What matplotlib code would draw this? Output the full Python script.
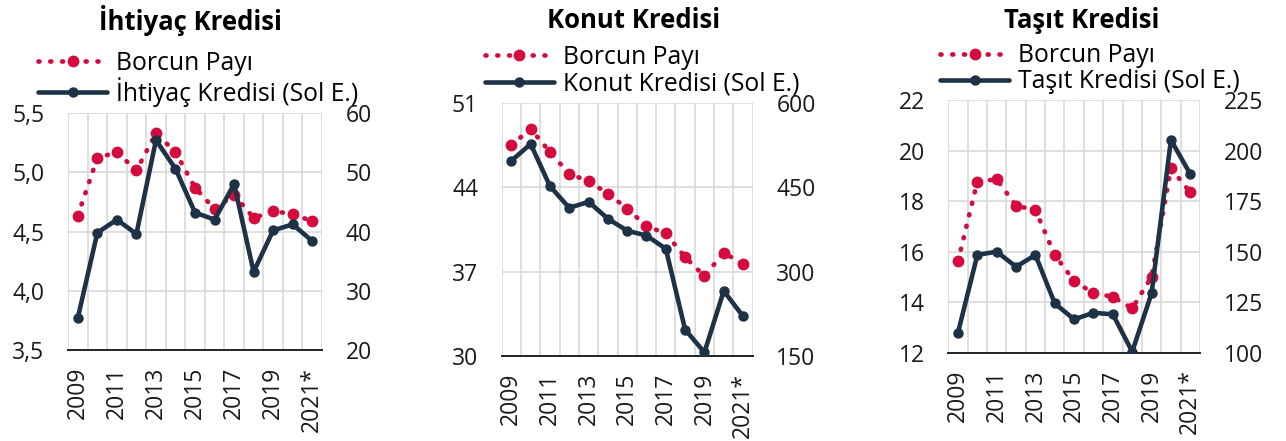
import matplotlib.pyplot as plt
from matplotlib.ticker import FixedLocator, FuncFormatter

plt.rcParams['font.family'] = ['Open Sans', 'DejaVu Sans']

years = ["2009", "2010", "2011", "2012", "2013", "2014", "2015", "2016",
         "2017", "2018", "2019", "2020", "2021*"]

# İhtiyaç Kredisi (left axis) and Borcun Payı (right axis)
ihtiyac_kredi = [3.77, 4.49, 4.60, 4.48, 5.27, 5.03, 4.66, 4.60, 4.90, 4.16, 4.51, 4.56, 4.42]
ihtiyac_pay = [42.7, 52.4, 53.4, 50.3, 56.6, 53.4, 47.4, 43.8, 46.2, 42.3, 43.4, 43.0, 41.7]

# Konut Kredisi
konut_kredi = [46.2, 47.6, 44.1, 42.3, 42.8, 41.4, 40.4, 40.0, 38.9, 32.2, 30.3, 35.4, 33.3]
konut_pay = [525, 554, 513, 474, 461, 439, 412, 381, 368, 326, 292, 334, 313]

# Taşıt Kredisi
tasit_kredi = [12.79, 15.87, 16.0, 15.4, 15.87, 13.95, 13.32, 13.58, 13.52, 12.04, 14.35, 20.42, 19.07]
tasit_pay = [145.3, 184.6, 185.8, 172.7, 170.6, 148.3, 135.5, 129.4, 127.7, 121.9, 137.6, 191.2, 179.3]

PINK = "#D50B3E"
NAVY = "#1E3247"
GRID = "#D9D9D9"
FS = 16.5
LEG_FS = 17.8

panels = [
    dict(title="İhtiyaç Kredisi", name="İhtiyaç Kredisi (Sol E.)", kredi=ihtiyac_kredi, pay=ihtiyac_pay,
         lticks=[3.5, 4.0, 4.5, 5.0, 5.5], rticks=[20, 30, 40, 50, 60], comma=True,
         pos=[0.0529, 0.2063, 0.1975, 0.5374], tx=0.148, leg=(0.0295, 0.885)),
    dict(title="Konut Kredisi", name="Konut Kredisi (Sol E.)", kredi=konut_kredi, pay=konut_pay,
         lticks=[30, 37, 44, 51], rticks=[150, 300, 450, 600], comma=False,
         pos=[0.3901, 0.1927, 0.1952, 0.5737], tx=0.493, leg=(0.377, 0.898)),
    dict(title="Taşıt Kredisi", name="Taşıt Kredisi (Sol E.)", kredi=tasit_kredi, pay=tasit_pay,
         lticks=[12, 14, 16, 18, 20, 22], rticks=[100, 125, 150, 175, 200, 225], comma=False,
         pos=[0.7374, 0.2002, 0.1957, 0.5730], tx=0.841, leg=(0.731, 0.902)),
]

fig = plt.figure(figsize=(12.86, 4.41), dpi=100)
x = list(range(len(years)))

for p in panels:
    ax = fig.add_axes(p["pos"])
    ax2 = ax.twinx()
    ax.set_zorder(ax2.get_zorder() + 1)
    ax.patch.set_visible(False)

    pay_line, = ax2.plot(x, p["pay"], color=PINK, linestyle=(0, (0.2, 2.3)), linewidth=3.4,
                         dash_capstyle="round", marker="o", markersize=7.5, zorder=2)
    kredi_line, = ax.plot(x, p["kredi"], color=NAVY, linewidth=3.3, marker="o",
                          markersize=6.5, solid_capstyle="round", zorder=3)

    ax.set_xlim(-0.5, len(years) - 0.5)
    ax.set_ylim(p["lticks"][0], p["lticks"][-1])
    ax2.set_ylim(p["rticks"][0], p["rticks"][-1])
    ax.set_yticks(p["lticks"])
    ax2.set_yticks(p["rticks"])
    if p["comma"]:
        ax.yaxis.set_major_formatter(FuncFormatter(lambda v, _: f"{v:.1f}".replace(".", ",")))
    ax.set_xticks(x[::2])
    ax.set_xticklabels(years[::2], rotation=90)

    # grid on the lower axis
    ax2.xaxis.set_visible(True)
    ax2.tick_params(axis="x", which="both", labelbottom=False, bottom=False)
    ax2.xaxis.set_minor_locator(FixedLocator([i - 0.5 for i in range(len(years) + 1)]))
    ax2.grid(True, which="minor", axis="x", color=GRID, linewidth=1.2)
    ax2.grid(False, which="major", axis="x")
    ax2.grid(True, which="major", axis="y", color=GRID, linewidth=1.2)
    ax2.set_axisbelow(True)

    for a in (ax, ax2):
        for side in ("top", "left", "right"):
            a.spines[side].set_visible(False)
        a.spines["bottom"].set_color("#262626")
        a.spines["bottom"].set_linewidth(1.3)
        a.tick_params(length=0, labelsize=FS, colors="#1a1a1a", which="both")
    ax.tick_params(axis="y", pad=17)
    ax2.tick_params(axis="y", pad=17)
    ax.tick_params(axis="x", pad=12)

    fig.text(p["tx"], 0.953, p["title"], ha="center", va="center",
             fontsize=18.5, fontweight="bold", color="#000000")
    fig.legend([pay_line, kredi_line], ["Borcun Payı", p["name"]], loc="upper left",
               bbox_to_anchor=p["leg"], frameon=False, fontsize=LEG_FS, handlelength=2.8,
               handletextpad=0.35, labelspacing=0.05, borderpad=0, borderaxespad=0,
               numpoints=1)

fig.savefig("out.png", dpi=100)
